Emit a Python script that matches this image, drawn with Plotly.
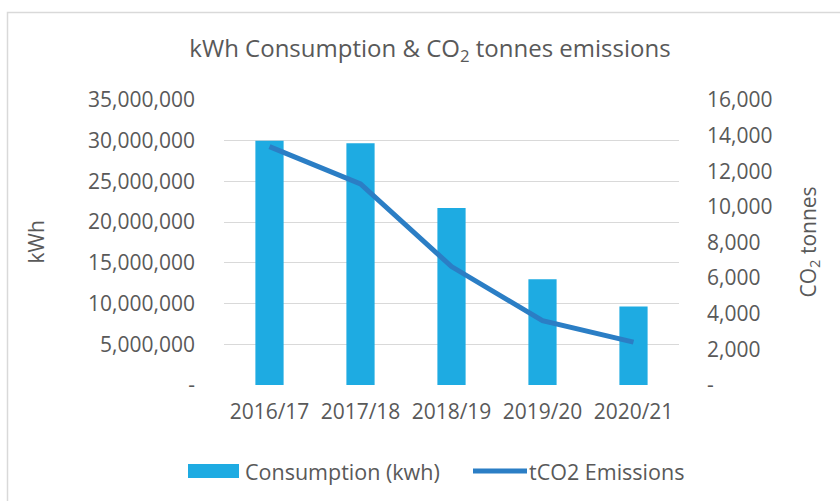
import plotly.graph_objects as go

years = ["2016/17", "2017/18", "2018/19", "2019/20", "2020/21"]
consumption_kwh = [30000000, 29700000, 21750000, 13000000, 9650000]
tco2_emissions = [13380, 11290, 6650, 3610, 2410]

left_tickvals = [0, 5000000, 10000000, 15000000, 20000000, 25000000, 30000000, 35000000]
left_ticktext = ["-", "5,000,000", "10,000,000", "15,000,000", "20,000,000",
                 "25,000,000", "30,000,000", "35,000,000"]
right_tickvals = [0, 2000, 4000, 6000, 8000, 10000, 12000, 14000, 16000]
right_ticktext = ["-", "2,000", "4,000", "6,000", "8,000", "10,000", "12,000", "14,000", "16,000"]

W, H = 840, 501
L, R, T, B = 224, 161, 100, 116
pw, ph = W - L - R, H - T - B

def px_x(p):
    return (p - L) / pw

def px_y(p):
    return (H - B - p) / ph

FONT = "Open Sans"
TXT = "#595959"
BAR_C = "#1EABE2"
LINE_C = "#2B7EC5"

fig = go.Figure()
fig.add_trace(go.Bar(
    x=years, y=consumption_kwh, name="Consumption (kwh)",
    marker=dict(color=BAR_C, line=dict(width=0)),
    yaxis="y",
))
fig.add_trace(go.Scatter(
    x=years, y=tco2_emissions, name="tCO2 Emissions",
    mode="lines", line=dict(color=LINE_C, width=5),
    yaxis="y2",
))

LEG_Y = 471
fig.update_layout(
    width=W, height=H,
    margin=dict(l=L, r=R, t=T, b=B),
    paper_bgcolor="white", plot_bgcolor="white",
    font=dict(family=FONT, color=TXT, size=21),
    title=dict(text="kWh Consumption &amp; CO<sub>2</sub> tonnes emissions",
               x=430 / W, xref="container", xanchor="center",
               y=1 - 49 / H, yref="container", yanchor="middle",
               font=dict(size=24, color=TXT, family=FONT)),
    bargap=0.69,
    showlegend=False,
    xaxis=dict(showgrid=False, zeroline=False, showline=False,
               tickfont=dict(size=21, color=TXT), ticks="",
               ticklabelstandoff=12, fixedrange=True),
    yaxis=dict(range=[0, 35000000], tickvals=left_tickvals, ticktext=left_ticktext,
               showgrid=True, gridcolor="#D9D9D9", gridwidth=1.3,
               zeroline=False, showline=False, ticks="",
               tickfont=dict(size=21, color=TXT), ticklabelstandoff=28),
    yaxis2=dict(range=[0, 16000], tickvals=right_tickvals, ticktext=right_ticktext,
                overlaying="y", side="right", showgrid=False, zeroline=False,
                showline=False, ticks="",
                tickfont=dict(size=21, color=TXT), ticklabelstandoff=27),
    annotations=[
        dict(text="kWh", xref="paper", yref="paper", x=px_x(35), y=0.5,
             textangle=-90, showarrow=False, font=dict(size=21, color=TXT),
             xanchor="center", yanchor="middle"),
        dict(text="CO<sub>2</sub> tonnes", xref="paper", yref="paper", x=px_x(808), y=0.5,
             textangle=-90, showarrow=False, font=dict(size=21, color=TXT),
             xanchor="center", yanchor="middle"),
        dict(text="Consumption (kwh)", xref="paper", yref="paper",
             x=px_x(243), y=px_y(LEG_Y), xanchor="left", yanchor="middle",
             showarrow=False, font=dict(size=21.5, color=TXT)),
        dict(text="tCO2 Emissions", xref="paper", yref="paper",
             x=px_x(527), y=px_y(LEG_Y), xanchor="left", yanchor="middle",
             showarrow=False, font=dict(size=21.5, color=TXT)),
    ],
    shapes=[
        dict(type="rect", xref="paper", yref="paper",
             x0=px_x(7.5), x1=px_x(1000), y0=px_y(700), y1=px_y(12.5),
             line=dict(color="#D9D9D9", width=1.5), fillcolor="rgba(0,0,0,0)",
             layer="below"),
        dict(type="rect", xref="paper", yref="paper",
             x0=px_x(188), x1=px_x(239), y0=px_y(LEG_Y + 7), y1=px_y(LEG_Y - 7),
             line=dict(width=0), fillcolor=BAR_C),
        dict(type="line", xref="paper", yref="paper",
             x0=px_x(473), x1=px_x(527), y0=px_y(LEG_Y), y1=px_y(LEG_Y),
             line=dict(color=LINE_C, width=5)),
    ],
)

fig.write_html("out.html", config={"displayModeBar": False},
               post_script="document.body.style.margin='0';")
